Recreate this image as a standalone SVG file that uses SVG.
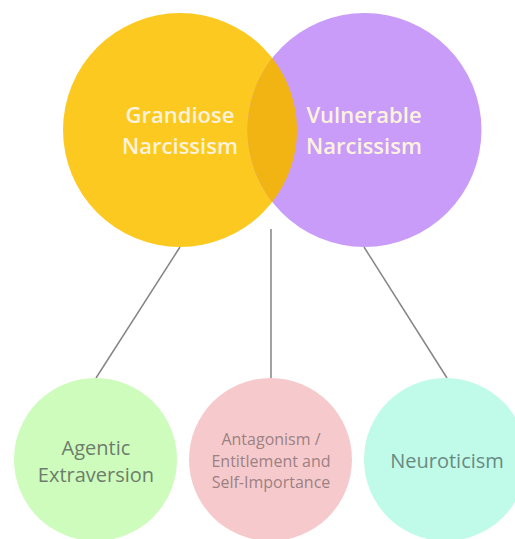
<svg xmlns="http://www.w3.org/2000/svg" width="515" height="539" viewBox="0 0 515 539">
<style>
.top{font-family:"Open Sans","Liberation Sans",sans-serif;font-weight:600;font-size:22px;fill:#fdf3dc;text-anchor:middle}
.bot{font-family:"Open Sans","Liberation Sans",sans-serif;font-size:20px;text-anchor:middle}
.sm{font-size:16px}
.conn line{stroke:#858585;stroke-width:1.5}
</style>
<rect width="515" height="539" fill="#ffffff"/>
<g class="conn" id="connectors">
<line x1="180" y1="247" x2="96" y2="378"/>
<line x1="271" y1="229" x2="271" y2="378"/>
<line x1="364" y1="247" x2="447" y2="378"/>
</g>
<g id="grandiose">
<circle cx="180" cy="130" r="117" fill="#fbc91f"/>
</g>
<g id="vulnerable">
<circle cx="364.5" cy="130" r="117" fill="#c89cf8"/>
<path d="M272.25 58 A117 117 0 0 1 272.25 202 A117 117 0 0 1 272.25 58 Z" fill="#f2b412"/>
</g>
<g id="grandiose-label">
<text class="top" x="180" y="123">Grandiose</text>
<text class="top" x="180" y="154">Narcissism</text>
</g>
<g id="vulnerable-label">
<text class="top" x="364" y="123">Vulnerable</text>
<text class="top" x="364" y="154">Narcissism</text>
</g>
<g id="agentic">
<circle cx="95.5" cy="459.5" r="81.5" fill="#cdfcbc"/>
<text class="bot" x="96" y="455" fill="#6e7d6c">Agentic</text>
<text class="bot" x="96" y="482" fill="#6e7d6c">Extraversion</text>
</g>
<g id="antagonism">
<circle cx="270.5" cy="459.5" r="81.5" fill="#f6cacc"/>
<text class="bot sm" x="271" y="445" fill="#9c8183">Antagonism /</text>
<text class="bot sm" x="271" y="467" fill="#9c8183">Entitlement and</text>
<text class="bot sm" x="271" y="488" fill="#9c8183">Self-Importance</text>
</g>
<g id="neuroticism">
<circle cx="445.5" cy="459.5" r="81.5" fill="#c0fbe9"/>
<text class="bot" x="447" y="468" fill="#6a8a82">Neuroticism</text>
</g>
</svg>
